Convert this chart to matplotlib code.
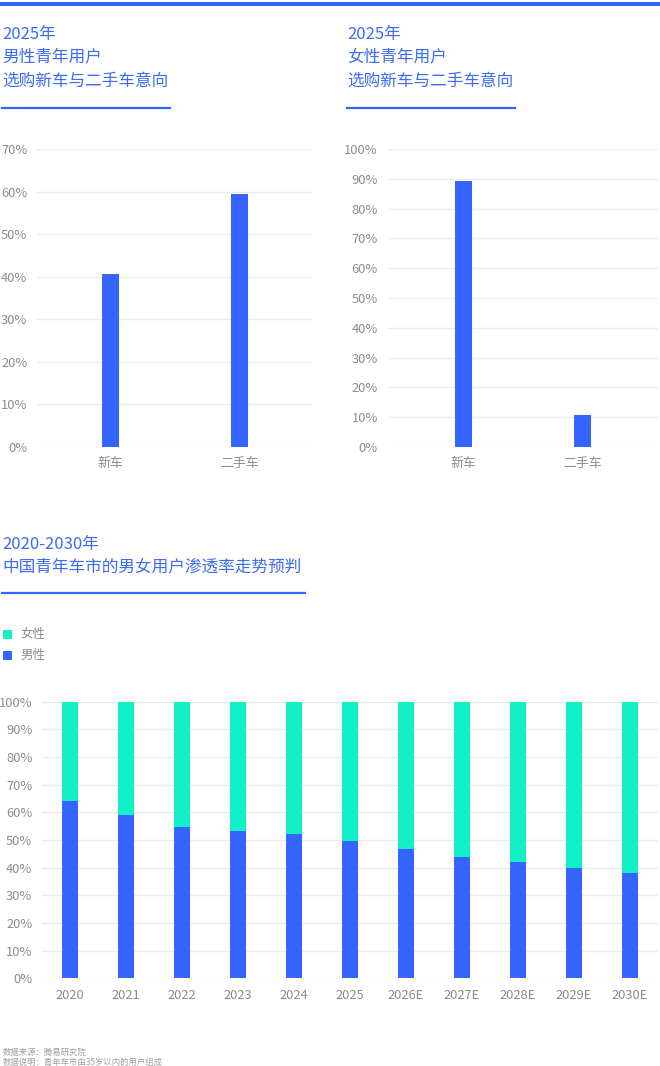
import matplotlib
matplotlib.use("Agg")
import matplotlib.pyplot as plt
from matplotlib.patches import Rectangle
from matplotlib.lines import Line2D
from matplotlib.ticker import FixedLocator

plt.rcParams['font.family'] = ['Noto Sans CJK SC', 'DejaVu Sans']

# ---------------- data ----------------
male_cats = ["新车", "二手车"]
male_vals = [40.6, 59.4]
female_cats = ["新车", "二手车"]
female_vals = [89.4, 10.6]

years = ["2020", "2021", "2022", "2023", "2024", "2025",
         "2026E", "2027E", "2028E", "2029E", "2030E"]
male_share = [64.1, 59.0, 54.6, 53.3, 52.2, 49.5, 46.8, 44.0, 41.9, 39.9, 37.9]
female_share = [100 - v for v in male_share]

male_ticks = [0, 10, 20, 30, 40, 50, 60, 70]
pct_ticks = [0, 10, 20, 30, 40, 50, 60, 70, 80, 90, 100]

# ---------------- style ----------------
BLUE = "#3465FE"
TEAL = "#12F0C8"
TITLE = "#3A6CF4"
GRAY = "#8C8C8C"
GRID = "#EBEBEB"

W, H = 660, 1066
fig = plt.figure(figsize=(W / 100, H / 100), dpi=100)


def fx(x):
    return x / W


def fy(y):
    return 1 - y / H


def add_axes(l, r, t, b):
    return fig.add_axes([fx(l), fy(b), fx(r) - fx(l), (b - t) / H])


def style(ax, ticks, ymax):
    ax.set_ylim(0, ymax)
    ax.yaxis.set_major_locator(FixedLocator(ticks))
    ax.set_yticklabels([f"{t}%" for t in ticks])
    for s in ax.spines.values():
        s.set_visible(False)
    ax.grid(axis='y', color=GRID, linewidth=1)
    ax.set_axisbelow(True)
    ax.tick_params(length=0, labelsize=9.3, labelcolor=GRAY)
    ax.tick_params(axis='y', pad=7)
    ax.tick_params(axis='x', pad=7.5)


# top bar
fig.add_artist(Rectangle((0, fy(5.7)), 1, 4 / H, transform=fig.transFigure,
                         color=BLUE, lw=0))

# titles
def title_block(x, lines, ys, ux0, ux1, uy):
    for t, y in zip(lines, ys):
        fig.text(fx(x), fy(y), t, fontsize=12, color=TITLE, va='center', ha='left')
    fig.add_artist(Line2D([fx(ux0), fx(ux1)], [fy(uy), fy(uy)],
                          transform=fig.transFigure, color=BLUE, lw=1.6))

title_block(2, ["2025年", "男性青年用户", "选购新车与二手车意向"], [34, 57, 81], 2, 170, 107.5)
title_block(347, ["2025年", "女性青年用户", "选购新车与二手车意向"], [34, 57, 81], 347, 515, 107.5)
title_block(2, ["2020-2030年", "中国青年车市的男女用户渗透率走势预判"], [544, 567], 2, 305, 592.5)

# top-left chart
ax1 = add_axes(37, 312, 149, 447)
ax1.bar(range(len(male_cats)), male_vals, width=0.13, color=BLUE)
ax1.set_xlim(-0.573, 1.565)
ax1.set_xticks(range(len(male_cats)))
ax1.set_xticklabels(male_cats)
style(ax1, male_ticks, 70)

# top-right chart
ax2 = add_axes(387.7, 658, 149, 447)
ax2.bar(range(len(female_cats)), female_vals, width=0.142, color=BLUE)
ax2.set_xlim(-0.635, 1.630)
ax2.set_xticks(range(len(female_cats)))
ax2.set_xticklabels(female_cats)
style(ax2, pct_ticks, 100)

# bottom chart
ax3 = add_axes(42, 658, 701.7, 978.3)
xs = range(len(years))
ax3.bar(xs, male_share, width=0.294, color=BLUE, label="男性")
ax3.bar(xs, female_share, width=0.294, bottom=male_share, color=TEAL, label="女性")
ax3.set_xlim(-0.5, 10.5)
ax3.set_xticks(list(xs))
ax3.set_xticklabels(years)
style(ax3, pct_ticks, 100)

# legend
for label, col, yc in [("女性", TEAL, 634.7), ("男性", BLUE, 655.7)]:
    fig.add_artist(Rectangle((fx(2.7), fy(yc + 4.7)), 9.3 / W, 9.3 / H,
                             transform=fig.transFigure, color=col, lw=0))
    fig.text(fx(20.7), fy(yc), label, fontsize=9, color=GRAY, va='center', ha='left')

# footer
fig.text(fx(2.5), fy(1052), "数据来源：腾易研究院", fontsize=6, color="#A0A0A0", va='center')
fig.text(fx(2.5), fy(1062), "数据说明：青年车市由35岁以内的用户组成", fontsize=6, color="#A0A0A0", va='center')

fig.savefig("out.png", dpi=100, facecolor="white")
